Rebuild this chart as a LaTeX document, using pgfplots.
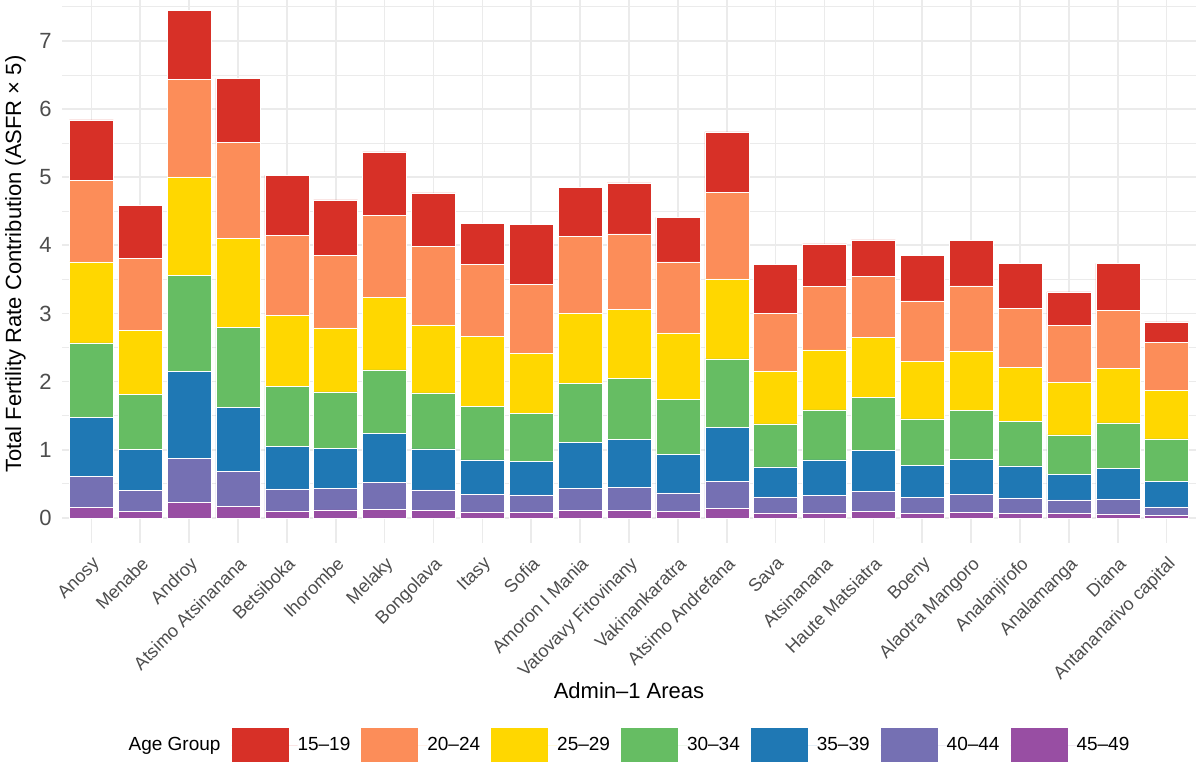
\documentclass[border=0pt]{standalone}
\usepackage{fontspec}
\setmainfont{Liberation Sans}
\usepackage{pgfplots}
\usepackage{pgfplotstable}
\pgfplotsset{compat=1.18}

\definecolor{c15}{HTML}{D73027}
\definecolor{c20}{HTML}{FC8D59}
\definecolor{c25}{HTML}{FFD700}
\definecolor{c30}{HTML}{66BD63}
\definecolor{c35}{HTML}{1F78B4}
\definecolor{c40}{HTML}{7570B3}
\definecolor{c45}{HTML}{984EA3}
\definecolor{gridc}{HTML}{EBEBEB}
\definecolor{tickc}{HTML}{4D4D4D}

% segment heights per age group (ASFR x 5), bottom to top
\pgfplotstableread{
x  s45   s40   s35   s30   s25   s20   s15
0  0.158 0.456 0.856 1.099 1.188 1.198 0.885
1  0.099 0.307 0.604 0.802 0.940 1.055 0.782
2  0.228 0.643 1.282 1.401 1.451 1.426 1.015
3  0.173 0.505 0.941 1.173 1.312 1.401 0.945
4  0.104 0.322 0.628 0.877 1.044 1.174 0.881
5  0.117 0.314 0.592 0.826 0.940 1.061 0.817
6  0.127 0.392 0.724 0.929 1.067 1.203 0.930
7  0.108 0.303 0.602 0.822 0.998 1.149 0.788
8  0.088 0.254 0.509 0.788 1.022 1.062 0.597
9  0.078 0.260 0.494 0.704 0.881 1.008 0.880
10 0.108 0.327 0.671 0.866 1.027 1.130 0.724
11 0.113 0.337 0.705 0.890 1.013 1.110 0.749
12 0.093 0.274 0.563 0.807 0.978 1.042 0.651
13 0.137 0.401 0.788 1.008 1.174 1.267 0.890
14 0.073 0.235 0.441 0.631 0.778 0.841 0.719
15 0.073 0.255 0.523 0.734 0.881 0.929 0.625
16 0.093 0.298 0.597 0.778 0.886 0.895 0.533
17 0.068 0.235 0.470 0.680 0.842 0.890 0.670
18 0.078 0.264 0.519 0.714 0.876 0.954 0.665
19 0.064 0.230 0.469 0.656 0.787 0.871 0.656
20 0.064 0.200 0.377 0.577 0.768 0.837 0.494
21 0.059 0.220 0.450 0.665 0.798 0.856 0.685
22 0.034 0.127 0.372 0.626 0.710 0.704 0.304
}\tfr

\begin{document}
\begin{tikzpicture}
\begin{axis}[
    name=ax,
    scale only axis,
    width=567pt, height=271.6pt,
    xmin=-0.6, xmax=22.6,
    ymin=-0.372, ymax=7.6,
    ybar stacked,
    bar width=0.9,
    axis line style={draw=none},
    major tick length=0pt, minor tick length=0pt,
    xtick=data,
    xticklabels={Anosy, Menabe, Androy, Atsimo Atsinanana, Betsiboka, Ihorombe,
        Melaky, Bongolava, Itasy, Sofia, Amoron I Mania, Vatovavy Fitovinany,
        Vakinankaratra, Atsimo Andrefana, Sava, Atsinanana, Haute Matsiatra,
        Boeny, Alaotra Mangoro, Analanjirofo, Analamanga, Diana,
        Antananarivo capital},
    ytick={0,1,...,7},
    minor ytick={0.5,1.5,...,7.5},
    grid=both,
    major grid style={line width=0.8pt, color=gridc},
    minor grid style={line width=0.4pt, color=gridc},
    /pgf/number format/assume math mode=true,
    ticklabel style={text=tickc},
    yticklabel style={font=\fontsize{11}{13}\selectfont, anchor=east, inner sep=0pt, xshift=-5pt},
    xticklabel style={font=\fontsize{9}{11}\selectfont, yshift=-6pt, rotate=45, anchor=north east, inner sep=0pt},
    legend columns=8,
    legend image code/.code={\fill[#1] (0pt,-8.5pt) rectangle (28.5pt,8.5pt);
        \path (0pt,0pt) -- (33pt,0pt);},
    legend style={at={(0.5,0)}, anchor=center, yshift=-101pt,
        draw=none, fill=none, inner sep=0pt,
        font=\fontsize{9.5}{11}\selectfont,
        nodes={inner sep=0pt},
        /tikz/every even column/.append style={column sep=5.5pt}},
]
\addplot[fill=c45, draw=white, line width=0.25pt, forget plot] table[x=x, y=s45] {\tfr};
\addplot[fill=c40, draw=white, line width=0.25pt, forget plot] table[x=x, y=s40] {\tfr};
\addplot[fill=c35, draw=white, line width=0.25pt, forget plot] table[x=x, y=s35] {\tfr};
\addplot[fill=c30, draw=white, line width=0.25pt, forget plot] table[x=x, y=s30] {\tfr};
\addplot[fill=c25, draw=white, line width=0.25pt, forget plot] table[x=x, y=s25] {\tfr};
\addplot[fill=c20, draw=white, line width=0.25pt, forget plot] table[x=x, y=s20] {\tfr};
\addplot[fill=c15, draw=white, line width=0.25pt, forget plot] table[x=x, y=s15] {\tfr};

\addlegendimage{empty legend}\addlegendentry{Age Group}
\addlegendimage{fill=c15, draw=none}\addlegendentry{15--19}
\addlegendimage{fill=c20, draw=none}\addlegendentry{20--24}
\addlegendimage{fill=c25, draw=none}\addlegendentry{25--29}
\addlegendimage{fill=c30, draw=none}\addlegendentry{30--34}
\addlegendimage{fill=c35, draw=none}\addlegendentry{35--39}
\addlegendimage{fill=c40, draw=none}\addlegendentry{40--44}
\addlegendimage{fill=c45, draw=none}\addlegendentry{45--49}
\end{axis}

\node[rotate=90, anchor=base, font=\fontsize{11}{13}\selectfont]
    at ([xshift=-20.5pt, yshift=139.5pt]ax.south west)
    {Total Fertility Rate Contribution (ASFR × 5)};
\node[anchor=base, font=\fontsize{11}{13}\selectfont]
    at ([yshift=-77.5pt]ax.south) {Admin--1 Areas};

\pgfresetboundingbox
\path ([xshift=-31pt, yshift=-109.5pt]ax.south west) rectangle (ax.north east);
\end{tikzpicture}
\end{document}
